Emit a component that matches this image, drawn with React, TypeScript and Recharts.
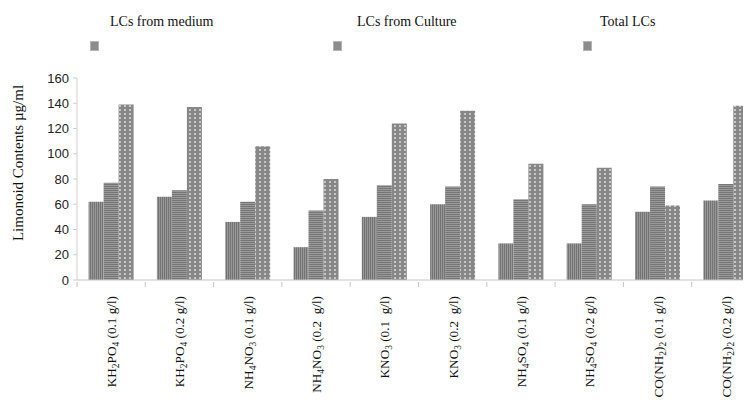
import { BarChart, Bar, XAxis, YAxis } from 'recharts'

// [text, isSubscript] segments for each category label
const categories: [string, boolean][][] = [
  [['KH', false], ['2', true], ['PO', false], ['4', true], [' (0.1 g/l)', false]],
  [['KH', false], ['2', true], ['PO', false], ['4', true], [' (0.2 g/l)', false]],
  [['NH', false], ['4', true], ['NO', false], ['3', true], [' (0.1 g/l)', false]],
  [['NH', false], ['4', true], ['NO', false], ['3', true], [' (0.2  g/l)', false]],
  [['KNO', false], ['3', true], [' (0.1  g/l)', false]],
  [['KNO', false], ['3', true], [' (0.2  g/l)', false]],
  [['NH', false], ['4', true], ['SO', false], ['4', true], [' (0.1 g/l)', false]],
  [['NH', false], ['4', true], ['SO', false], ['4', true], [' (0.2 g/l)', false]],
  [['CO(NH', false], ['2', true], [')', false], ['2', true], [' (0.1 g/l)', false]],
  [['CO(NH', false], ['2', true], [')', false], ['2', true], [' (0.2 g/l)', false]],
]

const fromMedium = [62, 66, 46, 26, 50, 60, 29, 29, 54, 63]
const fromCulture = [77, 71, 62, 55, 75, 74, 64, 60, 74, 76]
const totalLCs = [139, 137, 106, 80, 124, 134, 92, 89, 59, 138]

const yTicks = [0, 20, 40, 60, 80, 100, 120, 140, 160]

const seriesNames = ['LCs from medium', 'LCs from Culture', 'Total LCs']

const data = categories.map((c, i) => ({
  name: c.map((s) => s[0]).join(''),
  medium: fromMedium[i],
  culture: fromCulture[i],
  total: totalLCs[i],
}))

const CHART_W = 760
const CHART_H = 399
const Y_W = 69
const M_RIGHT = 8
const HALF_BAND = (CHART_W - Y_W - M_RIGHT) / categories.length / 2

const serif = '"Liberation Serif", "Times New Roman", serif'
const sans = '"Liberation Sans", Arial, sans-serif'

function CategoryTick(props: any) {
  const { x, y, payload } = props
  const parts = categories[payload.index] || []
  let shifted = false
  return (
    <g transform={`translate(${x},${y})`}>
      <line x1={-HALF_BAND} x2={-HALF_BAND} y1={0} y2={5} stroke="#c4c4c4" />
      <text
        transform="rotate(-90)"
        x={-14}
        y={5}
        textAnchor="end"
        fontFamily={serif}
        fontSize={13.2}
        fill="#111"
        style={{ whiteSpace: 'pre' }}
      >
        {parts.map(([t, sub], i) => {
          let dy = 0
          if (sub && !shifted) {
            dy = 3
            shifted = true
          } else if (!sub && shifted) {
            dy = -3
            shifted = false
          }
          return (
            <tspan key={i} dy={dy} fontSize={sub ? 9.5 : 13.2}>
              {t}
            </tspan>
          )
        })}
      </text>
    </g>
  )
}

function YLabel(props: any) {
  const { viewBox } = props
  const cx = viewBox.x + 15
  const cy = viewBox.y + viewBox.height / 2 - 16
  return (
    <text
      x={cx}
      y={cy}
      transform={`rotate(-90, ${cx}, ${cy})`}
      textAnchor="middle"
      fontFamily={serif}
      fontSize={15}
      fill="#111"
    >
      Limonoid Contents µg/ml
    </text>
  )
}

const legendPos = [
  { icon: 90, text: 110 },
  { icon: 333, text: 357 },
  { icon: 583, text: 600 },
]
const fills = ['url(#pMedium)', 'url(#pCulture)', 'url(#pTotal)']

export default function App() {
  return (
    <div
      style={{
        position: 'relative',
        width: 743,
        height: CHART_H,
        overflow: 'hidden',
        marginBottom: -8,
        background: '#fff',
      }}
    >
      <BarChart
        width={CHART_W}
        height={CHART_H}
        data={data}
        margin={{ top: 70, right: M_RIGHT, bottom: 7, left: 0 }}
        barCategoryGap="17%"
        barGap={0}
      >
        <defs>
          <pattern id="pMedium" width="2" height="4" patternUnits="userSpaceOnUse">
            <rect width="2" height="4" fill="#979797" />
            <rect width="1" height="4" fill="#747474" />
          </pattern>
          <pattern id="pCulture" width="4" height="2" patternUnits="userSpaceOnUse">
            <rect width="4" height="2" fill="#999999" />
            <rect width="4" height="1" fill="#767676" />
          </pattern>
          <pattern id="pTotal" width="5" height="4" patternUnits="userSpaceOnUse">
            <rect width="5" height="4" fill="#878787" />
            <rect x="1" y="1" width="2" height="2" fill="#c6c6c6" />
          </pattern>
        </defs>
        <XAxis
          dataKey="name"
          interval={0}
          height={120}
          tickLine={false}
          tickSize={0}
          axisLine={{ stroke: '#c4c4c4' }}
          tick={<CategoryTick />}
        />
        <YAxis
          width={Y_W}
          domain={[0, 160]}
          ticks={yTicks}
          interval={0}
          tickSize={4}
          tickMargin={4}
          axisLine={{ stroke: '#cfcfcf' }}
          tickLine={{ stroke: '#cfcfcf' }}
          tick={{ fontFamily: sans, fontSize: 13, fill: '#222' }}
          label={<YLabel />}
        />
        <Bar dataKey="medium" name={seriesNames[0]} fill={fills[0]} isAnimationActive={false} />
        <Bar dataKey="culture" name={seriesNames[1]} fill={fills[1]} isAnimationActive={false} />
        <Bar dataKey="total" name={seriesNames[2]} fill={fills[2]} isAnimationActive={false} />
      </BarChart>

      {/* legend */}
      {seriesNames.map((n, i) => (
        <div key={n}>
          <div
            style={{
              position: 'absolute',
              left: legendPos[i].icon - 8,
              top: 33,
              width: 9,
              height: 10,
              background: '#8c8c8c',
              border: '1px solid #b5b5b5',
              boxSizing: 'border-box',
            }}
          />
          <div
            style={{
              position: 'absolute',
              left: legendPos[i].text - 8,
              top: 6,
              fontFamily: serif,
              fontSize: 14,
              color: '#111',
              whiteSpace: 'nowrap',
            }}
          >
            {n}
          </div>
        </div>
      ))}
    </div>
  )
}
